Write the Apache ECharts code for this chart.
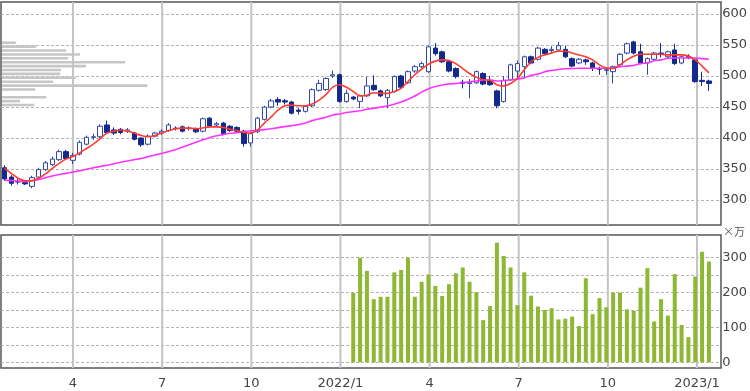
<!DOCTYPE html>
<html><head><meta charset="utf-8">
<script src="https://cdn.jsdelivr.net/npm/echarts@6/dist/echarts.min.js"></script>
<style>html,body{margin:0;padding:0;background:#fff}#c{width:750px;height:391px}</style>
</head><body><div id="c"></div>
<script>
// ---- categories (weekly) ----
const dates = [
'2021/01/25','2021/02/01','2021/02/08','2021/02/15','2021/02/22','2021/03/01','2021/03/08','2021/03/15','2021/03/22','2021/03/29',
'2021/04/05','2021/04/12','2021/04/19','2021/04/26','2021/05/03','2021/05/10','2021/05/17','2021/05/24','2021/05/31','2021/06/07','2021/06/14','2021/06/21','2021/06/28',
'2021/07/05','2021/07/12','2021/07/19','2021/07/26','2021/08/02','2021/08/09','2021/08/16','2021/08/23','2021/08/30','2021/09/06','2021/09/13','2021/09/20','2021/09/27',
'2021/10/04','2021/10/11','2021/10/18','2021/10/25','2021/11/01','2021/11/08','2021/11/15','2021/11/22','2021/11/29','2021/12/06','2021/12/13','2021/12/20','2021/12/27',
'2022/01/03','2022/01/10','2022/01/17','2022/01/24','2022/01/31','2022/02/07','2022/02/14','2022/02/21','2022/02/28','2022/03/07','2022/03/14','2022/03/21','2022/03/28',
'2022/04/04','2022/04/11','2022/04/18','2022/04/25','2022/05/02','2022/05/09','2022/05/16','2022/05/23','2022/05/30','2022/06/06','2022/06/13','2022/06/20','2022/06/27',
'2022/07/04','2022/07/11','2022/07/18','2022/07/25','2022/08/01','2022/08/08','2022/08/15','2022/08/22','2022/08/29','2022/09/05','2022/09/12','2022/09/19','2022/09/26',
'2022/10/03','2022/10/10','2022/10/17','2022/10/24','2022/10/31','2022/11/07','2022/11/14','2022/11/21','2022/11/28','2022/12/05','2022/12/12','2022/12/19','2022/12/26',
'2023/01/02','2023/01/09','2023/01/16','2023/01/23'
];
// ---- candles: [open, close, low, high] ----
const candles = [
[352,334,331,356],[337,327,323,340],[330,329,325,334],[328,326,324,331],[322,336,319,339],[337,349,335,352],[349,360,347,363],[357,366,355,370],[365,378,363,381],[378,367,365,381],
[364,372,358,376],[374,393,372,396],[390,401,388,404],[401,402,397,407],[402,419,400,422],[421,409,407,428],[413,408,405,417],[414,409,406,416],[411,413,408,416],[408,398,396,410],
[400,389,386,401],[390,403,388,406],[403,408,401,410],[408,411,405,414],[412,421,410,424],[415,416,412,419],[418,411,409,420],[415,416,412,419],[415,410,408,417],[411,431,409,433],
[432,419,417,434],[421,423,418,426],[424,407,405,426],[419,412,410,421],[417,411,409,419],[411,391,386,413],[392,407,386,410],[410,432,408,434],[430,450,428,452],[450,460,448,463],
[462,458,452,466],[460,458,454,463],[458,440,438,460],[445,443,438,448],[443,451,441,453],[452,478,450,480],[477,488,475,494],[478,496,476,498],[500,502,497,509],[502,459,457,504],
[459,472,457,478],[466,463,461,468],[459,468,448,470],[468,484,466,499],[485,478,476,501],[476,468,466,478],[465,477,448,479],[475,499,473,501],[500,482,480,502],[489,507,487,509],
[508,515,505,518],[515,520,513,523],[507,547,505,549],[545,536,533,553],[539,523,521,541],[523,508,506,525],[512,499,496,514],[490,488,480,494],[488,490,464,495],[489,507,487,509],
[504,487,485,506],[493,486,484,500],[476,452,448,478],[459,493,457,500],[494,518,492,520],[508,520,497,525],[515,531,497,533],[531,521,519,533],[527,545,525,547],[543,536,534,545],
[541,543,536,548],[542,549,540,555],[543,531,529,549],[528,516,514,530],[521,527,519,529],[526,523,518,528],[521,513,508,523],[512,511,502,515],[509,510,502,513],[507,515,488,517],
[518,535,516,537],[537,552,535,554],[555,537,535,557],[539,521,519,552],[521,528,502,530],[527,537,525,539],[537,536,530,553],[531,539,529,541],[542,520,518,552],[521,531,519,533],
[532,530,527,535],[526,491,489,528],[493,491,484,507],[492,488,476,494]
];
// ---- moving averages ----
const maShort = [
351,343,335,331,331,335,342,351,359,366,370,376,383,390,399,408,411,413,411,408,404,402,404,408,412,415,416,416,415,416,418,418,417,414,412,409,
408,413,424,434,445,452,453,452,452,455,461,470,482,486,482,475,468,469,473,472,472,475,480,491,502,511,519,524,526,525,520,512,504,498,494,
493,486,484,488,496,510,523,530,534,537,540,540,537,534,531,526,518,513,512,518,526,532,535,535,535,535,534,534,534,532,526,516,505
];
const maLong = [
332,331.5,330.6,330,330.6,333,336,338.7,341,343,345,347,349.5,352,354,356,358.5,361,363,365,367,370,372.6,375,378,381,385,389,393,397,400.5,403.7,405.5,407.6,408.5,410,
411.6,412.5,413.5,415,416.7,418.3,420,421.6,424.3,428,431,433.5,437,438.7,441,442.6,444,446.4,448,450,451.6,454.6,458,462.5,467.7,474,479.5,483,485.5,487,488,489,490.6,492,493.5,
493.5,492,492.6,493.5,495,497,501,503,507,509,510.6,511.6,512,512.5,512.5,512.5,512.5,512.5,513,515,516,517,520,521,524.7,526,528.5,529,529,529,529,528,527
];
// ---- weekly volume (x10,000 shares), starting at volumeStart ----
const volumeStart = '2022/01/17';
const volume = [
199,300,262,181,188,188,258,265,300,188,231,252,219,190,224,255,272,231,201,121,161,343,305,272,164,258,191,160,150,155,
123,125,131,104,241,138,184,158,200,200,152,148,214,270,117,181,134,253,107,72,246,317,289
];
// ---- volume-by-price profile (bottom bin first) ----
const profileBins = ['453','459','466','472','478','484','491','497','503','510','516','522','528','535','541','547','553'];
const profileVolumes = [350,195,480,0,360,1575,555,800,630,640,910,1335,715,845,695,370,150];
// ---- tick labels ----
const xTickDates = ['2021/04/05','2021/07/05','2021/10/04','2022/01/03','2022/04/04','2022/07/04','2022/10/03','2023/01/02'];
const xTickLabels = ['4','7','10','2022/1','4','7','10','2023/1'];
const priceMin = 300, priceMax = 600, priceStep = 50;
const volMin = 0, volMax = 300, volStep = 50, volLabelStep = 100;

const FONT = 'DejaVu Sans';
const vstart = dates.indexOf(volumeStart);
const volData = dates.map((d, i) => (i >= vstart && i - vstart < volume.length) ? volume[i - vstart] : '-');
const dashed = {show: true, lineStyle: {color: '#b4b4b4', type: [3, 2], width: 1}};
const isTick = (idx, val) => xTickDates.indexOf(val) >= 0;
const hiddenCat = (gi) => ({type: 'category', gridIndex: gi, data: dates, boundaryGap: true, show: false});
const hiddenVal = (gi) => ({type: 'value', gridIndex: gi, min: 0, max: 1, show: false});
// vertical month grid lines: one two-point series per tick, spanning the framed panel (0..1)
const vGridSeries = (xi) => xTickDates.map(d => ({
  type: 'line', xAxisIndex: xi, yAxisIndex: xi, data: [[d, 0], [d, 1]], symbol: 'none', showSymbol: false,
  silent: true, z: 1, clip: false,
  lineStyle: {color: '#c4c4c4', width: 2, opacity: 1},
  emphasis: {disabled: true}
}));

const chart = echarts.init(document.getElementById('c'), null, {renderer: 'canvas'});
chart.setOption({
  animation: false,
  backgroundColor: '#fff',
  textStyle: {fontFamily: FONT},
  grid: [
    {left: 1, right: 29, top: 2, height: 223, show: true, borderColor: '#555', borderWidth: 1.5, backgroundColor: 'transparent'},
    {left: 1, right: 29, top: 14, height: 186},
    {left: 2, width: 720, top: 40.8, height: 66.2},
    {left: 1, right: 29, top: 235, height: 133, show: true, borderColor: '#555', borderWidth: 1.5, backgroundColor: 'transparent'},
    {left: 1, right: 29, top: 257.7, height: 104.6}
  ],
  xAxis: [
    hiddenCat(0),
    hiddenCat(1),
    {type: 'value', gridIndex: 2, min: 0, max: 7800, show: false},
    {type: 'category', gridIndex: 3, data: dates, boundaryGap: true,
     axisLine: {show: false}, axisTick: {show: false}, splitLine: {show: false},
     axisLabel: {show: true, margin: 9, color: '#444', fontSize: 13, fontFamily: FONT,
       interval: isTick,
       formatter: (val) => { const k = xTickDates.indexOf(val); return k >= 0 ? xTickLabels[k] : ''; }}},
    hiddenCat(4)
  ],
  yAxis: [
    hiddenVal(0),
    {type: 'value', gridIndex: 1, min: priceMin, max: priceMax, interval: priceStep, position: 'right',
     axisLine: {show: false}, axisTick: {show: false}, splitLine: dashed,
     axisLabel: {margin: 3, color: '#444', fontSize: 13, fontFamily: FONT}},
    {type: 'category', gridIndex: 2, data: profileBins, show: false},
    hiddenVal(3),
    {type: 'value', gridIndex: 4, min: volMin, max: volMax, interval: volStep, position: 'right',
     axisLine: {show: false}, axisTick: {show: false}, splitLine: dashed,
     axisLabel: {margin: 3, color: '#444', fontSize: 13, fontFamily: FONT,
       formatter: v => (v % volLabelStep === 0 ? String(v) : '')}}
  ],
  graphic: [
    {type: 'text', left: 723, top: 226, style: {text: '×万', fontSize: 11, fill: '#555', fontFamily: 'Noto Sans CJK JP'}}
  ],
  series: [
    ...vGridSeries(0),
    ...vGridSeries(3),
    {type: 'bar', xAxisIndex: 2, yAxisIndex: 2, data: profileVolumes, barWidth: 2.6, z: 1,
     itemStyle: {color: '#c6c6c6'}, silent: true},
    {type: 'candlestick', xAxisIndex: 1, yAxisIndex: 1, data: candles, barWidth: 5, z: 3,
     itemStyle: {color: '#ffffff', color0: '#14298c', borderColor: '#3048a8', borderColor0: '#14298c', borderWidth: 1}},
    {type: 'line', xAxisIndex: 1, yAxisIndex: 1, data: maLong, symbol: 'none', smooth: 0.3, z: 4,
     lineStyle: {color: '#ff33ff', width: 1.6}},
    {type: 'line', xAxisIndex: 1, yAxisIndex: 1, data: maShort, symbol: 'none', smooth: 0.3, z: 4,
     lineStyle: {color: '#ff3b30', width: 1.6}},
    {type: 'bar', xAxisIndex: 4, yAxisIndex: 4, data: volData, barWidth: 4, clip: false, z: 3,
     itemStyle: {color: '#8cb832'}}
  ]
});
</script></body></html>
